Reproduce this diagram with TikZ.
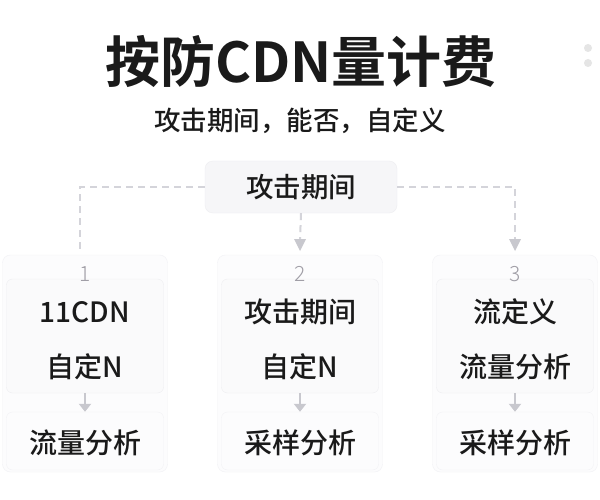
\documentclass[tikz,border=0pt]{standalone}
\usepackage{fontspec}
\setmainfont{Noto Sans CJK SC Medium}[BoldFont={Noto Sans CJK SC Bold}]
\newfontfamily\numfont{Noto Sans CJK SC Light}
\usetikzlibrary{arrows.meta}
\definecolor{txt}{HTML}{1A1A1A}
\definecolor{numc}{HTML}{A09EA6}
\definecolor{dashc}{HTML}{D4D4DA}
\definecolor{arrc}{HTML}{C8C8CE}
\definecolor{boxfill}{HTML}{F6F6F8}
\definecolor{boxline}{HTML}{EEEEF1}
\definecolor{outfill}{HTML}{FCFCFD}
\definecolor{outline}{HTML}{F2F2F5}
\tikzset{
  topbox/.style={draw=boxline, fill=boxfill, rounded corners=8pt, minimum width=192pt, minimum height=52pt, inner sep=0pt, text=txt, font=\fontsize{27.5}{30}\selectfont},
  colbox/.style={draw=outline, fill=outfill, rounded corners=8pt, minimum width=165pt, minimum height=217pt, inner sep=0pt},
  innerbox/.style={draw=boxline, fill=boxfill!50!white, rounded corners=6pt, minimum width=157pt, minimum height=114pt, inner sep=0pt},
  botbox/.style={draw=outline, fill=outfill, rounded corners=6pt, minimum width=157pt, minimum height=58pt, inner sep=0pt},
  lbl/.style={text=txt, font=\fontsize{28}{30}\selectfont, inner sep=0pt},
  numlbl/.style={text=numc, font=\numfont\fontsize{21}{24}\selectfont, inner sep=0pt},
  dashln/.style={draw=dashc, line width=2pt, dash pattern=on 7pt off 5pt},
  smallarr/.style={draw=arrc, line width=2pt, -{Triangle[width=12pt,length=8pt]}},
}
\begin{document}
\begin{tikzpicture}[x=1pt,y=-1pt]
\fill[white] (0,0) rectangle (600,500);
\useasboundingbox (0,0) rectangle (600,500);
% title
\node[text=txt, font=\fontsize{55}{60}\bfseries\selectfont, inner sep=0pt] (title) at (301,62) {按防CDN量计费};
\node[text=txt, font=\fontsize{26.5}{30}\selectfont, inner sep=0pt] (sub) at (300,121) {攻击期间，能否，自定义};
% dots
\fill[color=black!10] (588,48) circle (4);
\fill[color=black!10] (588,63) circle (4);
% columns
\foreach \cx/\n in {85/c1, 300/c2, 515/c3} {
  \node[colbox] (\n) at (\cx,363.5) {};
  \node[innerbox] (\n in) at (\cx,336) {};
  \node[botbox] (\n bot) at (\cx,441) {};
}
% top node
\node[topbox] (top) at (301,187) {攻击期间};
\coordinate (lc) at (80,187);
\coordinate (rc) at (515,187);
\draw[dashln] (top.west) -- (lc) -- (80,254);
\draw[dashln] (top.east) -- (rc) -- (515,240);
\draw[dashln] (top.south) -- (300,240);
\path[fill=arrc] (294,239) -- (306,239) -- (300,251) -- cycle;
\path[fill=arrc] (509,239) -- (521,239) -- (515,251) -- cycle;
% numbers
\node[numlbl] (n1) at (85,274) {1};
\node[numlbl] (n2) at (300,274) {2};
\node[numlbl] (n3) at (515,274) {3};
% texts
\node[lbl] (a1) at (85,312) {11CDN};
\node[lbl] (b1) at (85,367) {自定N};
\node[lbl] (d1) at (85,443) {流量分析};
\node[lbl] (a2) at (300,312) {攻击期间};
\node[lbl] (b2) at (300,367) {自定N};
\node[lbl] (d2) at (300,443) {采样分析};
\node[lbl] (a3) at (515,312) {流定义};
\node[lbl] (b3) at (515,367) {流量分析};
\node[lbl] (d3) at (515,443) {采样分析};
% small arrows
\foreach \n in {c1, c2, c3} {
  \draw[smallarr] (\n in.south) -- (\n bot.north);
}
\end{tikzpicture}
\end{document}
